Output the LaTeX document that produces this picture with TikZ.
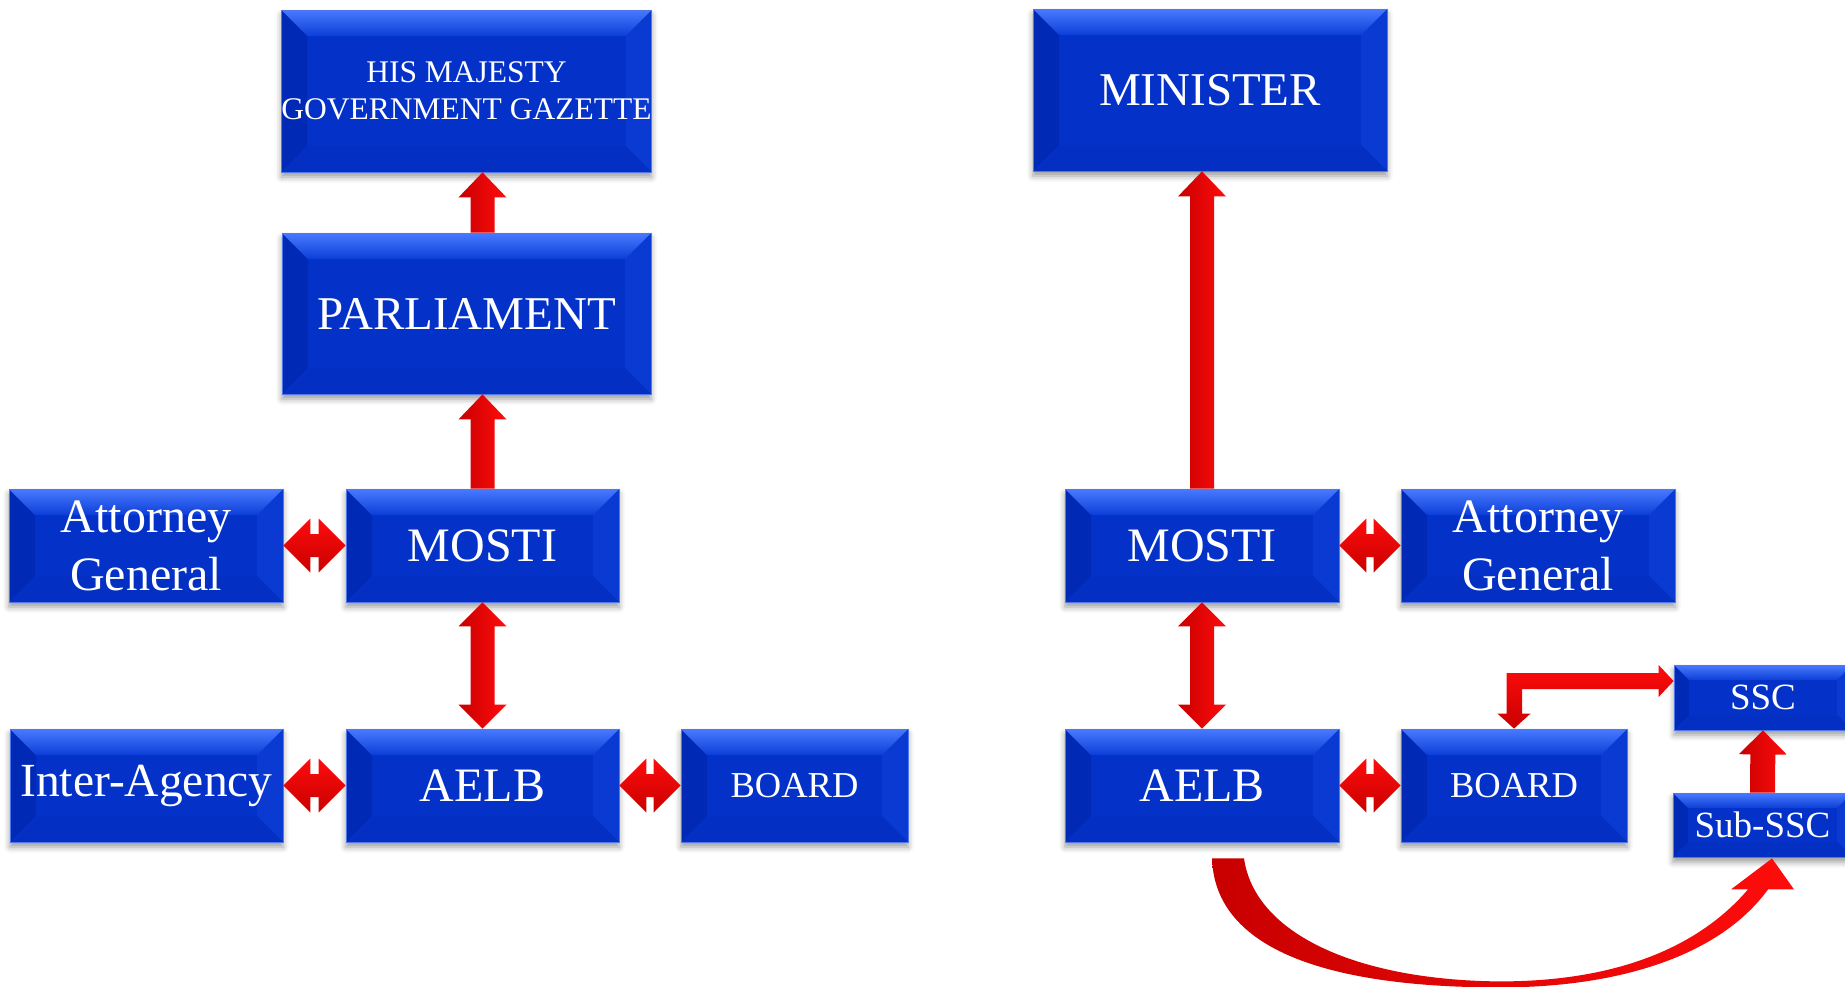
\documentclass[tikz,border=0pt]{standalone}
\usepackage{fontspec}
\setmainfont{Liberation Serif}
\usetikzlibrary{calc,shadows.blur}
\definecolor{bxmain}{RGB}{4,50,200}
\definecolor{bxtop}{RGB}{72,122,255}
\definecolor{bxtop2}{RGB}{12,62,215}
\definecolor{bxleft}{RGB}{0,42,182}
\definecolor{bxright}{RGB}{10,58,210}
\definecolor{bxbot}{RGB}{3,47,194}
\definecolor{bxedge}{RGB}{80,120,235}
\definecolor{arrd}{RGB}{200,0,0}
\definecolor{arrl}{RGB}{255,12,12}
\newcommand\fs[2]{\fontsize{#1}{#2}\selectfont}
\newcommand\bevelpic[1]{%
  \path (path picture bounding box.north west) coordinate (pNW)
        (path picture bounding box.north east) coordinate (pNE)
        (path picture bounding box.south west) coordinate (pSW)
        (path picture bounding box.south east) coordinate (pSE);
  \fill[bxleft] (pNW) -- ($(pNW)+(#1,-#1)$) -- ($(pSW)+(#1,#1)$) -- (pSW) -- cycle;
  \fill[bxright] (pNE) -- ($(pNE)+(-#1,-#1)$) -- ($(pSE)+(-#1,#1)$) -- (pSE) -- cycle;
  \fill[bxbot] (pSW) -- ($(pSW)+(#1,#1)$) -- ($(pSE)+(-#1,#1)$) -- (pSE) -- cycle;
  \shade[top color=bxtop, bottom color=bxtop2] (pNW) -- ($(pNW)+(#1,-#1)$) -- ($(pNE)+(-#1,-#1)$) -- (pNE) -- cycle;
}
% single block arrow: #1 start, #2 tip, #3 half shaft, #4 half head, #5 head length, #6 shading
\newcommand\sblk[6]{%
  \coordinate (hb) at ($(#2)!#5!(#1)$);
  \shade[#6] ($(#1)!#3!90:(#2)$) -- ($(hb)!#3!90:(#2)$) -- ($(hb)!#4!90:(#2)$) -- (#2)
    -- ($(hb)!#4!-90:(#2)$) -- ($(hb)!#3!-90:(#2)$) -- ($(#1)!#3!-90:(#2)$) -- cycle;
}
% double block arrow
\newcommand\dblk[6]{%
  \coordinate (ha) at ($(#1)!#5!(#2)$);
  \coordinate (hb) at ($(#2)!#5!(#1)$);
  \shade[#6] (#1) -- ($(ha)!#4!90:(#2)$) -- ($(ha)!#3!90:(#2)$) -- ($(hb)!#3!-90:(#1)$)
    -- ($(hb)!#4!-90:(#1)$) -- (#2) -- ($(hb)!#4!90:(#1)$) -- ($(hb)!#3!90:(#1)$)
    -- ($(ha)!#3!-90:(#2)$) -- ($(ha)!#4!-90:(#2)$) -- cycle;
}
\tikzset{
  box/.style={rectangle, fill=bxmain, draw=bxedge, line width=0.8pt, text=white,
    align=center, inner sep=0pt, minimum height=113pt,
    blur shadow={shadow xshift=0pt, shadow yshift=-5pt, shadow blur radius=6pt},
    path picture={\bevelpic{26pt}}},
  smallbox/.style={box, minimum height=64pt, path picture={\bevelpic{15pt}}},
  vshade/.style={left color=arrd, right color=arrl},
  hshade/.style={top color=arrl, bottom color=arrd},
}
\begin{document}
\begin{tikzpicture}[x=1pt,y=-1pt]
\useasboundingbox (0,0) rectangle (1845,986);
\clip (0,0) rectangle (1845,986);
% ---------- left chart ----------
\node[box, minimum width=369pt, minimum height=162pt, font=\fs{31.5}{37}] (gaz) at (466.5,91) {HIS MAJESTY\\GOVERNMENT GAZETTE};
\node[box, minimum width=369pt, minimum height=161pt, font=\fs{47}{56}] (parl) at (466.5,313.5) {PARLIAMENT};
\node[box, minimum width=273pt, font=\fs{48}{58}] (mostiL) at (482.5,545.5) {MOSTI};
\node[box, minimum width=274pt, font=\fs{48}{58}] (agL) at (146,545.5) {Attorney\\General};
\node[box, minimum width=273pt, font=\fs{48}{58}] (aelbL) at (482.5,785.5) {AELB};
\node[box, minimum width=273pt, font=\fs{47.5}{58}] (interL) at (146.5,785.5) {Inter-Agency};
\node[box, minimum width=227pt, font=\fs{36.5}{44}] (boardL) at (794.5,785.5) {BOARD};
% ---------- right chart ----------
\node[box, minimum width=354pt, minimum height=162pt, font=\fs{47}{56}] (minister) at (1210,90) {MINISTER};
\node[box, minimum width=274pt, font=\fs{48}{58}] (mostiR) at (1202,545.5) {MOSTI};
\node[box, minimum width=274pt, font=\fs{48}{58}] (agR) at (1538,545.5) {Attorney\\General};
\node[box, minimum width=274pt, font=\fs{48}{58}] (aelbR) at (1202,785.5) {AELB};
\node[box, minimum width=226pt, font=\fs{36.5}{44}] (boardR) at (1514,785.5) {BOARD};
\node[smallbox, minimum width=178pt, minimum height=65pt, font=\fs{37}{44}] (ssc) at (1763,697.5) {SSC};
\node[smallbox, minimum width=179pt, font=\fs{37}{44}] (subssc) at (1762.5,825) {Sub-SSC};
% ---------- left arrows ----------
\coordinate (p1) at (mostiL.north |- parl.north);
\coordinate (p2) at (mostiL.north |- gaz.south);
\sblk{p1}{p2}{12pt}{24pt}{25pt}{vshade}
\coordinate (p3) at (mostiL.north |- parl.south);
\sblk{mostiL.north}{p3}{12pt}{24pt}{25pt}{vshade}
\dblk{mostiL.south}{aelbL.north}{12pt}{24pt}{24pt}{vshade}
\dblk{agL.east}{mostiL.west}{11.5pt}{27pt}{27pt}{hshade}
\dblk{interL.east}{aelbL.west}{11.5pt}{27pt}{27pt}{hshade}
\dblk{aelbL.east}{boardL.west}{11.5pt}{27pt}{27pt}{hshade}
% ---------- right arrows ----------
\coordinate (p4) at (mostiR.north |- minister.south);
\sblk{mostiR.north}{p4}{12pt}{24pt}{25pt}{vshade}
\dblk{mostiR.south}{aelbR.north}{12pt}{24pt}{24pt}{vshade}
\dblk{mostiR.east}{agR.west}{11.5pt}{27pt}{27pt}{hshade}
\dblk{aelbR.east}{boardR.west}{11.5pt}{27pt}{27pt}{hshade}
\sblk{subssc.north}{ssc.south}{12.5pt}{24pt}{24pt}{vshade}
% elbow arrow BOARD <-> SSC
\coordinate (e1) at (boardR.north);
\coordinate (e2) at ($(ssc.west)+(0,-16.5)$);
\coordinate (ec) at (e1 |- e2);
\shade[top color=arrl, bottom color=arrd]
  (e1) -- ($(e1)+(16.5,-15)$) -- ($(e1)+(8,-15)$) -- ($(ec)+(8,8)$) -- ($(e2)+(-15,8)$)
  -- ($(e2)+(-15,16)$) -- (e2) -- ($(e2)+(-15,-16)$) -- ($(e2)+(-15,-8)$)
  -- ($(ec)+(-7.5,-8)$) -- ($(e1)+(-7.5,-15)$) -- ($(e1)+(-16.5,-15)$) -- cycle;
% curved arrow AELB -> Sub-SSC
\coordinate (cs) at (aelbR.south);
\coordinate (ct) at (subssc.south);
\shade[left color=arrd, right color=arrl]
  ($(cs)+(42,16)$) .. controls ($(cs)+(53,93)$) and ($(cs)+(158,138)$) .. ($(cs)+(298,139)$)
  .. controls ($(cs)+(418,139)$) and ($(cs)+(498,103)$) .. ($(ct)+(-14.5,32)$)
  -- ($(ct)+(-31.5,32)$) -- ($(ct)+(9.5,1)$) -- ($(ct)+(31.5,32)$) -- ($(ct)+(5.5,32)$)
  .. controls ($(cs)+(518,113)$) and ($(cs)+(418,145)$) .. ($(cs)+(298,145)$)
  .. controls ($(cs)+(128,145)$) and ($(cs)+(13,108)$) .. ($(cs)+(10,16)$) -- cycle;
\end{tikzpicture}
\end{document}
